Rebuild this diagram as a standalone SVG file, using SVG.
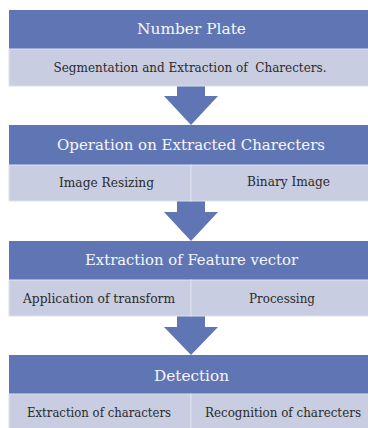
<svg xmlns="http://www.w3.org/2000/svg" width="368" height="428" viewBox="0 0 368 428">
<style>
.hd{fill:#6076b4}
.cell{fill:#c8cde1;stroke:#dde1ee;stroke-width:1}
.arrow{fill:#6076b4}
.ht{font-family:"DejaVu Serif","Liberation Serif",serif;font-size:15.5px;fill:#f6f7fb;text-anchor:middle}
.st{font-family:"DejaVu Serif","Liberation Serif",serif;font-size:12.5px;fill:#2b2b2b;text-anchor:middle;white-space:pre}
.sn{font-family:"DejaVu Serif","Liberation Serif",serif;font-size:12px;fill:#2b2b2b;text-anchor:middle}
</style>
<rect width="368" height="428" fill="#ffffff"/>
<g id="connectors">
<polygon class="arrow" points="177,86 205,86 205,96 218,96 191,125 164,96 177,96"/>
<polygon class="arrow" points="177,201 205,201 205,212 218,212 191,241 164,212 177,212"/>
<polygon class="arrow" points="177,316 205,316 205,327 218,327 191,355 164,327 177,327"/>
</g>
<g id="node1">
<rect class="hd" x="9" y="10" width="360" height="39"/>
<rect class="cell" x="9" y="49" width="360" height="37"/>
<text class="ht" x="191.5" y="34" textLength="109" lengthAdjust="spacingAndGlyphs">Number Plate</text>
<text class="st" x="190" y="72" textLength="273" lengthAdjust="spacingAndGlyphs">Segmentation and Extraction of  Charecters.</text>
</g>
<g id="node2">
<rect class="hd" x="9" y="125" width="360" height="40"/>
<rect class="cell" x="9" y="165" width="182" height="36"/>
<rect class="cell" x="191" y="165" width="178" height="36"/>
<text class="ht" x="191" y="150" textLength="268" lengthAdjust="spacingAndGlyphs">Operation on Extracted Charecters</text>
<text class="st" x="106.5" y="187" textLength="95" lengthAdjust="spacingAndGlyphs">Image Resizing</text>
<text class="st" x="288.5" y="186" textLength="83" lengthAdjust="spacingAndGlyphs">Binary Image</text>
</g>
<g id="node3">
<rect class="hd" x="9" y="241" width="360" height="39"/>
<rect class="cell" x="9" y="280" width="182" height="36"/>
<rect class="cell" x="191" y="280" width="178" height="36"/>
<text class="ht" x="191.5" y="265" textLength="213" lengthAdjust="spacingAndGlyphs">Extraction of Feature vector</text>
<text class="st" x="99" y="303" textLength="152" lengthAdjust="spacingAndGlyphs">Application of transform</text>
<text class="st" x="282" y="303" textLength="66" lengthAdjust="spacingAndGlyphs">Processing</text>
</g>
<g id="node4">
<rect class="hd" x="9" y="355" width="360" height="39"/>
<rect class="cell" x="9" y="394" width="182" height="35"/>
<rect class="cell" x="191" y="394" width="178" height="35"/>
<text class="ht" x="191.5" y="381" textLength="75" lengthAdjust="spacingAndGlyphs">Detection</text>
<text class="st" x="99" y="417" textLength="144" lengthAdjust="spacingAndGlyphs">Extraction of characters</text>
<text class="sn" x="283" y="417" textLength="156" lengthAdjust="spacingAndGlyphs">Recognition of charecters</text>
</g>
</svg>
